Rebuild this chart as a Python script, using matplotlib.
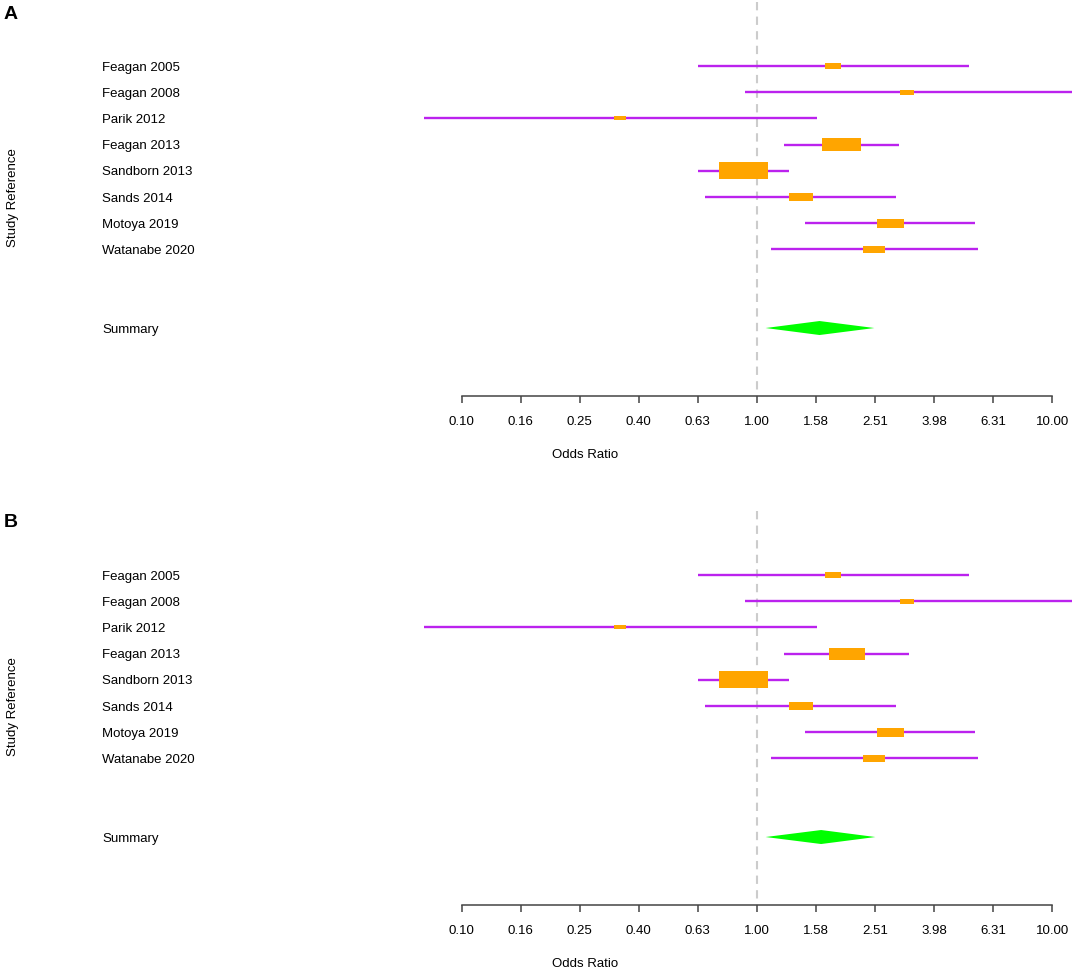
import numpy as np
import matplotlib
matplotlib.use("Agg")
import matplotlib.pyplot as plt
from matplotlib.patches import Rectangle, Polygon

plt.rcParams['font.family'] = ['Liberation Sans', 'DejaVu Sans']

# data (odds ratios, 95% CI, weights)
studies = ['Feagan 2005', 'Feagan 2008', 'Parik 2012', 'Feagan 2013',
           'Sandborn 2013', 'Sands 2014', 'Motoya 2019', 'Watanabe 2020']

or_a = [1.81, 3.23, 0.344, 1.94, 0.90, 1.41, 2.83, 2.50]
lo_a = [0.63, 0.91, 0.0743, 1.24, 0.63, 0.667, 1.46, 1.12]
hi_a = [5.25, 12.0, 1.60, 3.04, 1.28, 2.96, 5.48, 5.61]
w_a = [8.2, 6.9, 5.9, 19.1, 24.4, 11.8, 13.0, 10.7]
summ_a = [1.63, 1.07, 2.50]   # estimate, lower, upper

or_b = [1.81, 3.23, 0.344, 2.02, 0.90, 1.41, 2.83, 2.50]
lo_b = [0.63, 0.91, 0.0743, 1.24, 0.63, 0.667, 1.46, 1.12]
hi_b = [5.25, 12.0, 1.60, 3.27, 1.28, 2.96, 5.48, 5.61]
w_b = [8.2, 6.9, 5.9, 17.6, 24.4, 11.8, 13.0, 10.7]
summ_b = [1.65, 1.07, 2.52]

tick_vals = 10 ** np.linspace(-1, 1, 11)

W, H = 1072, 968
PX_DEC = 295.2      # pixels per decade
PX_ROW = 26.2       # pixels per study row
LINE_C = '#BB22EE'
BOX_C = '#FFA500'
DIA_C = '#00FF00'

fig = plt.figure(figsize=(W / 100, H / 100), dpi=100)


def forest(ax, h_px, est, lo, hi, wts, summ):
    n = len(est)
    rows = np.arange(1, n + 1)
    summ_row = n + 3
    axis_row = n + 5.6
    ax.set_xscale('log')
    ax.set_xlim(10 ** (-1 - 461.7 / PX_DEC), 10 ** (-1 + (W - 461.7) / PX_DEC))
    top = -1.52
    ax.set_ylim(top + h_px / PX_ROW, top)

    # reference line at OR = 1
    ax.vlines(1, top + 0.08, axis_row, colors='#CCCCCC', linestyles=(0, (4, 3)), lw=1.5, zorder=1)

    ax.hlines(rows, lo, hi, colors=LINE_C, lw=1.7, zorder=2)
    for r, e, wt in zip(rows, est, wts):
        hw = 2.04 * wt / 2 / PX_DEC
        hh = 0.34 * 2.04 * wt / 2 / PX_ROW
        x0 = e * 10 ** (-hw)
        ax.add_patch(Rectangle((x0, r - hh), e * 10 ** hw - x0, 2 * hh,
                               facecolor=BOX_C, edgecolor='none', zorder=3))

    e, l, u = summ
    dh = 7 / PX_ROW
    ax.add_patch(Polygon([(l, summ_row), (e, summ_row - dh), (u, summ_row), (e, summ_row + dh)],
                         closed=True, facecolor=DIA_C, edgecolor='none', zorder=3))

    tr = ax.get_yaxis_transform()
    for r, s in zip(rows, studies):
        ax.text(102 / W, r, s, transform=tr, ha='left', va='center_baseline', fontsize=9.5)
    ax.text(102 / W, summ_row, 'Summary', transform=tr, ha='left', va='center_baseline', fontsize=9.5)

    for s in ['top', 'right', 'left']:
        ax.spines[s].set_visible(False)
    ax.spines['bottom'].set_position(('data', axis_row))
    ax.spines['bottom'].set_bounds(0.1, 10)
    ax.spines['bottom'].set_color('#444444')
    ax.spines['bottom'].set_linewidth(1.1)
    ax.set_xticks(tick_vals)
    ax.set_xticklabels(['%.2f' % v for v in tick_vals])
    ax.xaxis.set_minor_locator(matplotlib.ticker.NullLocator())
    ax.tick_params(axis='x', direction='out', length=5, width=1.1, color='#444444',
                   pad=9, labelsize=9.5)
    ax.set_yticks([])
    ax.set_xlabel('Odds Ratio', fontsize=9.5, va='center')
    ax.xaxis.set_label_coords(585 / W, (h_px - 455) / h_px)
    ax.set_ylabel('Study Reference', fontsize=9.5, va='center')
    ax.yaxis.set_label_coords(13 / W, (h_px - 198) / h_px)
    ax.patch.set_visible(False)


ax_a = fig.add_axes([0, 1 - 470 / H, 1, 470 / H])
ax_b = fig.add_axes([0, 0, 1, 459 / H])

forest(ax_a, 470, or_a, lo_a, hi_a, w_a, summ_a)
forest(ax_b, 459, or_b, lo_b, hi_b, w_b, summ_b)

fig.text(4 / W, 1 - 6 / H, 'A', fontsize=14, fontweight='bold', ha='left', va='top')
fig.text(4 / W, 1 - 514 / H, 'B', fontsize=14, fontweight='bold', ha='left', va='top')

fig.savefig('out.png', dpi=100)
